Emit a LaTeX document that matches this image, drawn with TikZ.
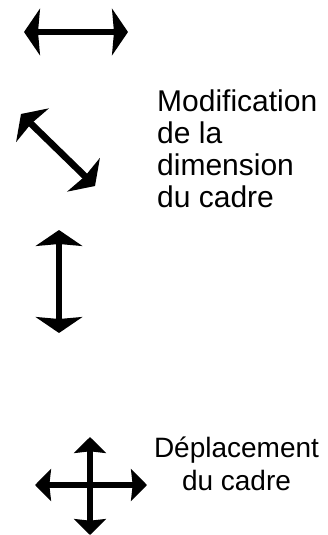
\documentclass[tikz,border=0pt]{standalone}
\usepackage{fontspec}
\setmainfont{Liberation Sans}
\usetikzlibrary{arrows.meta}
\tikzset{
	resize/.style={
		draw,
		line width=0.2cm,
		>={Stealth[length=0.48cm, width=1.4cm, inset=0.06cm]},
		<->,
	},
	move/.style={
		draw,
		line width=0.18cm,
		>={Stealth[length=0.48cm, width=0.96cm, inset=0.05cm]},
		<->,
	},
	caption/.style={
		inner sep=0pt,
		font=\fontsize{25.6pt}{27.2pt}\selectfont,
	},
}

\begin{document}
\begin{tikzpicture}[x=0.03cm, y=-0.03cm]
		\useasboundingbox (0,0) rectangle (327,535);
		% resize handles
		\coordinate (hleft) at (24,32);
		\coordinate (hright) at (128,32);
		\coordinate (dtop) at (21,114);
		\coordinate (dbottom) at (95,186);
		\coordinate (vtop) at (59,230);
		\coordinate (vbottom) at (59,333);
		\draw [resize] (hleft) -- (hright);
		\draw [resize] (dtop) -- (dbottom);
		\draw [resize] (vtop) -- (vbottom);
		\node [caption, align=left, anchor=base west] (resizetext) at (157,207) {Modification\\de la\\dimension\\du cadre};
		
		% move handle
		\coordinate (mleft) at (35,485);
		\coordinate (mright) at (147,485);
		\coordinate (mtop) at (90,437);
		\coordinate (mbottom) at (90,535);
		\draw [move] (mleft) -- (mright);
		\draw [move] (mtop) -- (mbottom);
		\node [caption, align=center, anchor=base, font=\fontsize{23.9pt}{28pt}\selectfont] (movetext) at (236.5,490) {Déplacement\\du cadre};
	\end{tikzpicture}
\end{document}
